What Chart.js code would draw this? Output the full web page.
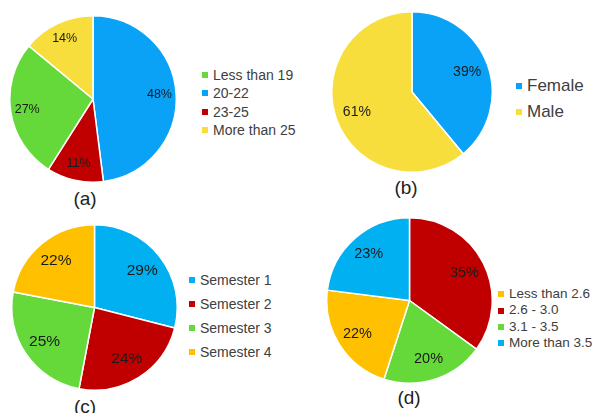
<!DOCTYPE html>
<html>
<head>
<meta charset="utf-8">
<script src="https://cdn.jsdelivr.net/npm/chart.js"></script>
<style>
  body { margin: 0; background: #fff; font-family: "Liberation Sans", Arial, sans-serif; }
  #page { position: relative; width: 601px; height: 413px; overflow: hidden; }
  canvas { position: absolute; }
  .legend { position: absolute; margin: 0; padding: 0; list-style: none; color: #404040; white-space: nowrap; }
  .legend li { display: flex; align-items: center; }
  .legend .box { display: inline-block; width: 6px; height: 6px; margin-right: 5px; }
  .caption { position: absolute; width: 60px; height: 22px; line-height: 22px; text-align: center; font-size: 19px; color: #222; }
</style>
</head>
<body>
<div id="page">
  <canvas id="pieA" width="168" height="168" style="left:9px; top:15px"></canvas>
  <ul class="legend" id="legendA" style="left:202px; top:66px; font-size:14px; line-height:18.3px"></ul>
  <div class="caption" style="left:55px; top:188px">(a)</div>

  <canvas id="pieB" width="162" height="162" style="left:331px; top:11px"></canvas>
  <ul class="legend" id="legendB" style="left:516px; top:73px; font-size:17px; line-height:26px"></ul>
  <div class="caption" style="left:376px; top:177px">(b)</div>

  <canvas id="pieC" width="167" height="167" style="left:11px; top:224px"></canvas>
  <ul class="legend" id="legendC" style="left:189px; top:268px; font-size:14px; line-height:24px"></ul>
  <div class="caption" style="left:55px; top:396px">(c)</div>

  <canvas id="pieD" width="167" height="167" style="left:326px; top:217px"></canvas>
  <ul class="legend" id="legendD" style="left:498px; top:286px; font-size:13.5px; line-height:16.4px"></ul>
  <div class="caption" style="left:379px; top:387px">(d)</div>
</div>

<script>
// (a) age groups, listed clockwise from 12 o'clock
const ageLabels = ['20-22', '23-25', 'Less than 19', 'More than 25'];
const ageValues = [48, 11, 27, 14];
const ageColors = ['#0aa2f7', '#c00000', '#66d93a', '#f8de3c'];
const ageLegendOrder = ['Less than 19', '20-22', '23-25', 'More than 25'];

// (b) gender
const genderLabels = ['Female', 'Male'];
const genderValues = [39, 61];
const genderColors = ['#0aa2f7', '#f8de3c'];

// (c) semester
const semesterLabels = ['Semester 1', 'Semester 2', 'Semester 3', 'Semester 4'];
const semesterValues = [29, 24, 25, 22];
const semesterColors = ['#00b0f0', '#c00000', '#66d93a', '#ffc000'];

// (d) GPA, listed clockwise from 12 o'clock
const gpaLabels = ['2.6 - 3.0', '3.1 - 3.5', 'Less than 2.6', 'More than 3.5'];
const gpaValues = [35, 20, 22, 23];
const gpaColors = ['#c00000', '#66d93a', '#ffc000', '#00b0f0'];
const gpaLegendOrder = ['Less than 2.6', '2.6 - 3.0', '3.1 - 3.5', 'More than 3.5'];

// percentage labels drawn inside each slice
const pctLabels = {
    id: 'pctLabels',
    afterDatasetsDraw(chart, args, opts) {
        const ctx = chart.ctx;
        const meta = chart.getDatasetMeta(0);
        const values = chart.data.datasets[0].data;
        ctx.save();
        ctx.font = opts.size + 'px "Liberation Sans", Arial, sans-serif';
        ctx.fillStyle = '#1a1a1a';
        ctx.textAlign = 'center';
        ctx.textBaseline = 'middle';
        meta.data.forEach((arc, i) => {
            const p = arc.getProps(['x', 'y', 'startAngle', 'endAngle', 'outerRadius'], true);
            const mid = (p.startAngle + p.endAngle) / 2;
            const d = p.outerRadius * opts.factor;
            ctx.fillText(values[i] + '%', p.x + Math.cos(mid) * d, p.y + Math.sin(mid) * d);
        });
        ctx.restore();
    }
};

function buildLegend(chart, listId, order) {
    const list = document.getElementById(listId);
    const items = chart.options.plugins.legend.labels.generateLabels(chart);
    if (order) {
        items.sort((a, b) => order.indexOf(a.text) - order.indexOf(b.text));
    }
    items.forEach(item => {
        const li = document.createElement('li');
        const box = document.createElement('span');
        box.className = 'box';
        box.style.background = item.fillStyle;
        li.appendChild(box);
        li.appendChild(document.createTextNode(item.text));
        list.appendChild(li);
    });
}

function makePie(canvasId, labels, values, colors, labelOpts, listId, order) {
    const chart = new Chart(document.getElementById(canvasId), {
        type: 'pie',
        data: {
            labels: labels,
            datasets: [{
                data: values,
                backgroundColor: colors,
                borderColor: '#ffffff',
                borderWidth: 1.5
            }]
        },
        options: {
            responsive: false,
            animation: false,
            events: [],
            plugins: {
                legend: { display: false },
                tooltip: { enabled: false },
                pctLabels: labelOpts
            }
        },
        plugins: [pctLabels]
    });
    buildLegend(chart, listId, order);
}

makePie('pieA', ageLabels, ageValues, ageColors, { factor: 0.8, size: 12.5 }, 'legendA', ageLegendOrder);
makePie('pieB', genderLabels, genderValues, genderColors, { factor: 0.73, size: 14 }, 'legendB');
makePie('pieC', semesterLabels, semesterValues, semesterColors, { factor: 0.73, size: 15.5 }, 'legendC');
makePie('pieD', gpaLabels, gpaValues, gpaColors, { factor: 0.745, size: 14.5 }, 'legendD', gpaLegendOrder);
</script>
</body>
</html>
